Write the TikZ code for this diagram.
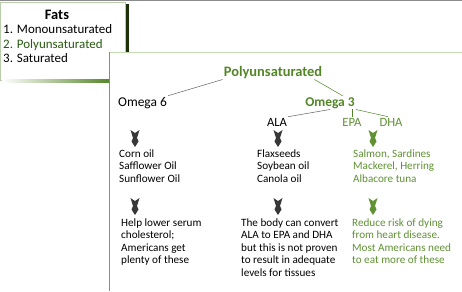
\documentclass[tikz,border=0pt]{standalone}
\usepackage{fontspec}
\setmainfont{Carlito}
\definecolor{fatgreen}{RGB}{84,134,40}
\definecolor{fatdarkgreen}{RGB}{40,90,16}
\definecolor{fatlightgreen}{RGB}{96,146,52}
\definecolor{fatgray}{RGB}{55,55,55}
\definecolor{fatrule}{RGB}{140,140,140}
\definecolor{fatshadow}{RGB}{28,48,10}
\definecolor{fatbox}{RGB}{185,205,170}
\definecolor{boxline}{RGB}{120,160,80}
\definecolor{boxtop}{RGB}{195,220,175}
\usetikzlibrary{calc}

\begin{document}
\begin{tikzpicture}[x=1bp,y=-1bp,
  txt/.style={anchor=base west, inner sep=0pt, align=left, font=\fontsize{11.2}{12.5}\selectfont},
  head/.style={anchor=base, inner sep=1pt, font=\fontsize{13.5}{15}\selectfont},
  link/.style={line width=0.5pt}]
\useasboundingbox (0,0) rectangle (462,291);
\draw[fatrule] (0,0.5) -- (462,0.5);

% fats box with its shadow
\draw[fatbox] (0.5,2.5) rectangle (125,80);
\shade[left color=white, right color=fatgreen] (2,79.5) rectangle (110,82.5);
\fill[fatshadow] (126,4) rectangle (128.5,52);
\node[anchor=base, inner sep=0pt, font=\fontsize{14.5}{16}\selectfont\bfseries] (fats) at (57,19) {Fats};
\foreach \i/\name/\col in {1/Monounsaturated/black, 2/Polyunsaturated/fatdarkgreen, 3/Saturated/black}{
  \node[anchor=base west, inner sep=0pt, text=\col, font=\fontsize{13}{14}\selectfont] (item\i) at (3,{19+14.5*\i}) {\i. \name};
}

% main box
\fill[white] (109,52) rectangle (462,291);
\draw[boxtop] (109,52.5) -- (462,52.5);
\draw[boxline, line width=1bp] (109.5,52) -- (109.5,291);

% tree
\node[head, font=\fontsize{14.5}{16}\selectfont\bfseries, text=fatgreen] (poly) at (273,76) {Polyunsaturated};
\node[head] (omsix) at (142.5,106) {Omega 6};
\node[head, font=\fontsize{13.5}{15}\selectfont\bfseries, text=fatgreen] (omthree) at (330,106) {Omega 3};
\node[head, font=\fontsize{12.7}{14}\selectfont] (ala) at (277,126) {ALA};
\node[head, font=\fontsize{12.7}{14}\selectfont, text=fatlightgreen] (epa) at (352,126) {EPA};
\node[head, font=\fontsize{12.7}{14}\selectfont, text=fatlightgreen] (dha) at (391,126) {DHA};

\draw[link, fatrule!70!black] (poly.south west) -- (omsix.north east);
\draw[link, fatgreen] ([xshift=-9bp]poly.south east) -- ([xshift=13bp]omthree.north);
\draw[link, fatrule!70!black] (omthree.south) -- (ala.north east);
\draw[link, fatgreen] (epa.north |- omthree.south) -- (epa.north);
\draw[link, fatgreen] (omthree.south east) -- ([xshift=-3bp]dha.north);

% block arrows
\foreach \x/\y/\col in {135/130/fatgray, 278/130/fatgray, 373/130/fatlightgreen,
                        135/198/fatgray, 278/198/fatgray, 373/198/fatlightgreen}{
  \fill[\col, shift={(\x,\y)}] (-4.5,0) -- (0,3) -- (4.5,0) -- (2,8) -- (3.5,11.5) -- (0,17) -- (-3.5,11.5) -- (-2,8) -- cycle;
}

% lists (base = last line)
\node[txt] (omsixsrc) at (119,182) {Corn oil\\Safflower Oil\\Sunflower Oil};
\node[txt] (alasrc) at (257,182) {Flaxseeds\\Soybean oil\\Canola oil};
\node[txt, text=fatlightgreen] (dhasrc) at (353,182) {Salmon, Sardines\\Mackerel, Herring\\Albacore tuna};
\node[txt] (omsixnote) at (121,263.5) {Help lower serum\\cholesterol;\\Americans get\\plenty of these};
\node[txt] (alanote) at (241,276) {The body can convert\\ALA to EPA and DHA\\but this is not proven\\to result in adequate\\levels for tissues};
\node[txt, text=fatlightgreen] (dhanote) at (352,263.5) {Reduce risk of dying\\from heart disease.\\Most Americans need\\to eat more of these};
\end{tikzpicture}
\end{document}
